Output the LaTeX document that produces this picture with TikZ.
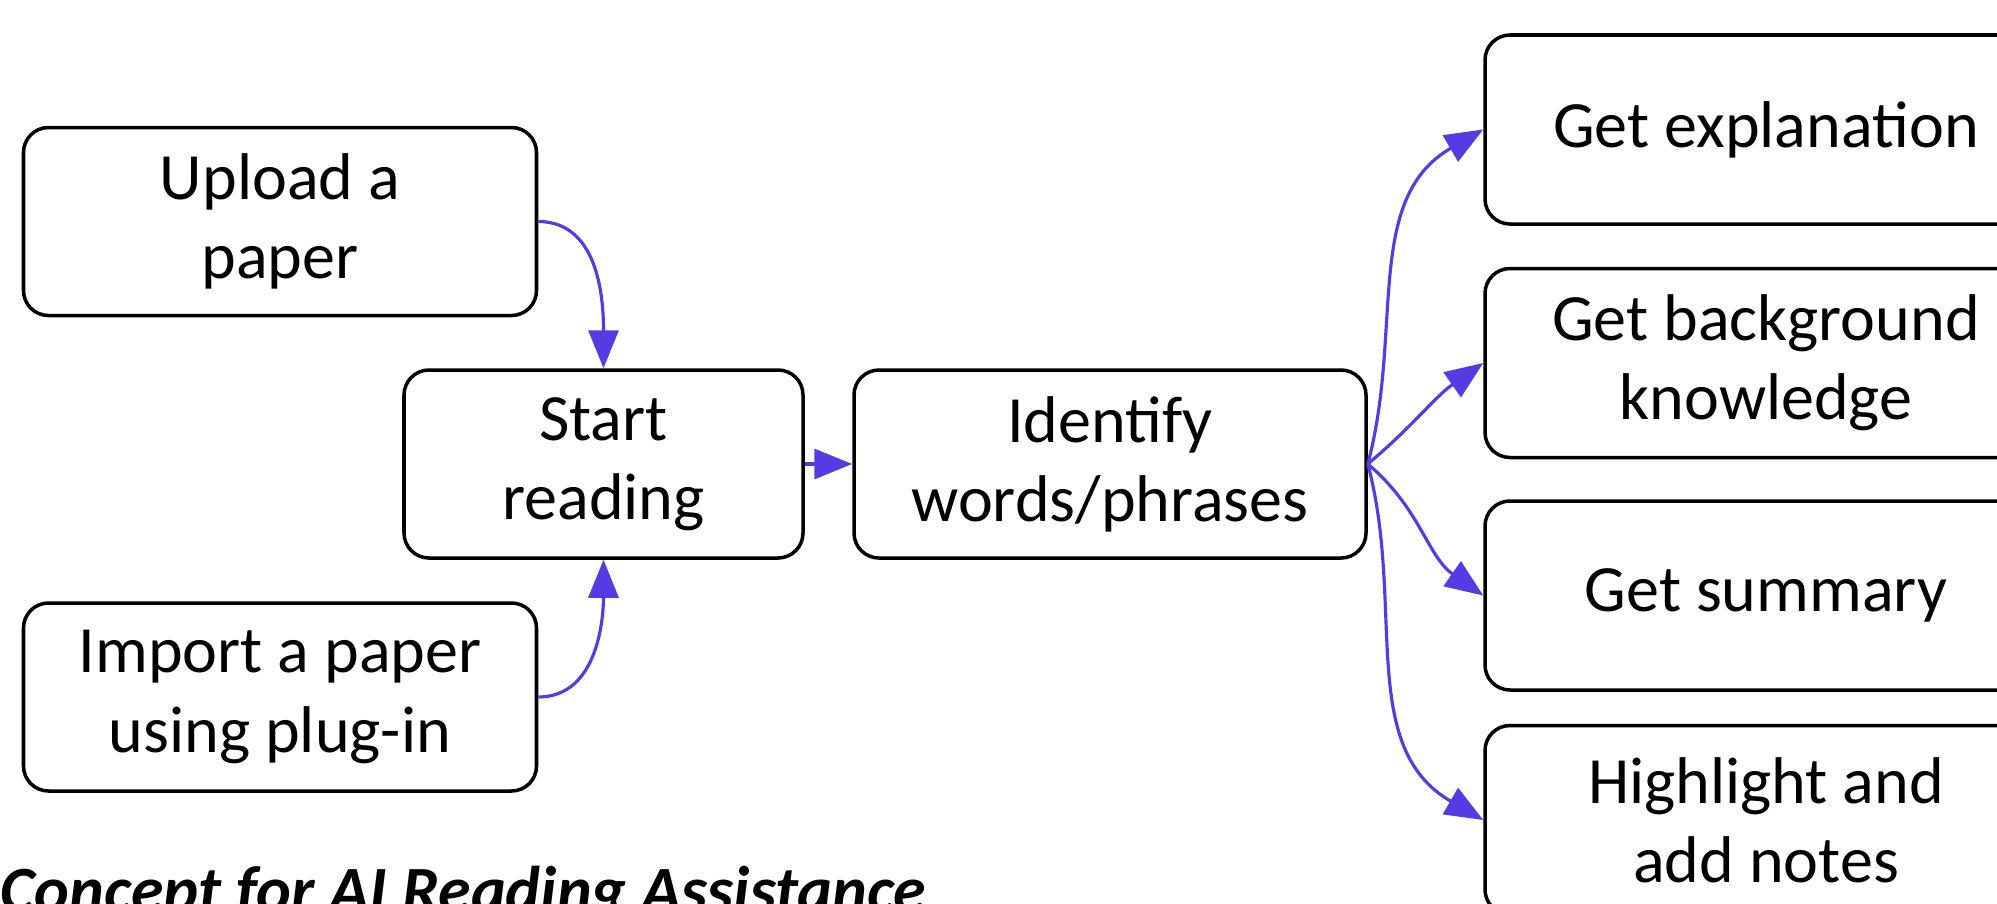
\documentclass[tikz,border=0pt]{standalone}
\usepackage{fontspec}
\setmainfont{Carlito}
\usetikzlibrary{arrows.meta}

\definecolor{flowblue}{RGB}{86,59,229}

\begin{document}
\begin{tikzpicture}[
    font=\fontsize{18.8}{22.5}\selectfont,
    box/.style={draw, line width=1pt, rounded corners=2.5mm, align=center,
                minimum height=18.8mm, inner sep=2pt},
    src/.style={box, minimum width=51.3mm},
    mid/.style={box, minimum width=39.9mm},
    wide/.style={box, minimum width=51.2mm},
    task/.style={box, minimum width=56.2mm, minimum height=18.9mm},
    flow/.style={-{Triangle[length=3.8mm, width=3mm]}, line width=0.9pt, flowblue},
    caption/.style={anchor=base west, inner sep=0pt, font=\fontsize{18.8}{22.5}\selectfont\bfseries\itshape},
]
    \useasboundingbox (0,0) rectangle (19.97,-9.03);

    % --- Entry points on the left ---
    \node[src]  (upload)   at ( 2.80 , -2.215) {Upload a\\paper};
    \node[src]  (import)   at ( 2.80 , -6.97 ) {Import a paper\\using plug-in};

    % --- Main line ---
    \node[mid]  (start)    at ( 6.035, -4.64 ) {Start\\reading};
    \node[wide] (identify) at (11.10 , -4.64 ) {Identify\\words/phrases};

    % --- Actions on a selected word/phrase ---
    \node[task] (explain)  at (17.66 , -1.295) {Get explanation};
    \node[task] (backgr)   at (17.66 , -3.63 ) {Get background\\knowledge};
    \node[task] (summary)  at (17.66 , -5.955) {Get summary};
    \node[task] (notes)    at (17.66 , -8.20 ) {Highlight and\\add notes};

    % --- Connectors ---
    \draw[flow] (upload.east) to[out=0, in=90]  (start.north);
    \draw[flow] (import.east) to[out=0, in=-90] (start.south);
    \draw[flow] (start.east) -- (identify.west);

    \draw[flow] (identify.east) to[out=75,  in=210] (explain.west);
    \draw[flow] (identify.east) to[out=40,  in=215] (backgr.west);
    \draw[flow] (identify.east) to[out=-40, in=145] (summary.west);
    \draw[flow] (identify.east) to[out=-75, in=150] (notes.west);

    \node[caption] (title) at (0,-9.12) {Concept for AI Reading Assistance};
\end{tikzpicture}
\end{document}
